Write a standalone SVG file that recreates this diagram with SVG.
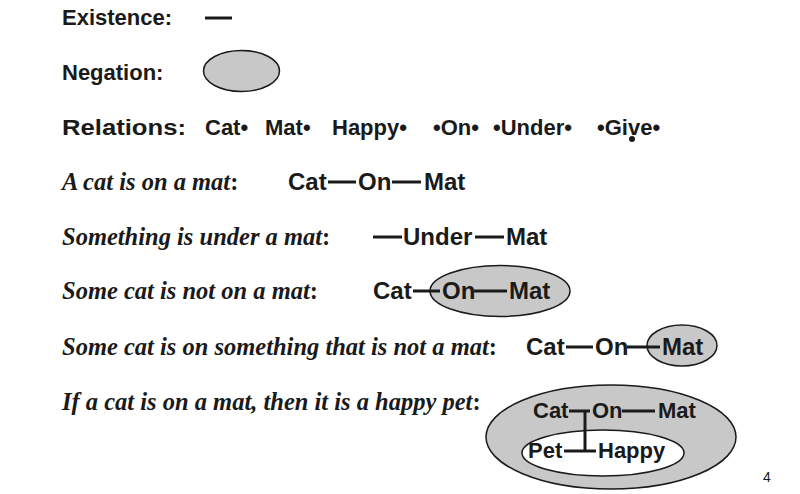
<svg xmlns="http://www.w3.org/2000/svg" width="800" height="494" viewBox="0 0 800 494">
<style>
.s{font-family:"Liberation Sans",Arial,sans-serif;font-weight:bold;font-size:22px;fill:#1a1a1a}
.g{font-family:"Liberation Sans",Arial,sans-serif;font-weight:bold;font-size:24px;fill:#1a1a1a}
.i{font-family:"Liberation Serif","Times New Roman",serif;font-weight:bold;font-style:italic;font-size:24.5px;fill:#1a1a1a}
.u{font-style:normal}
.neg{fill:#c8c8c8;stroke:#1a1a1a;stroke-width:1.5}
.pos{fill:#fff;stroke:#1a1a1a;stroke-width:1.5}
.ln{stroke:#1a1a1a;stroke-width:3;fill:none}
.pg{font-family:"Liberation Sans",Arial,sans-serif;font-size:14px;fill:#1a1a1a}
</style>
<rect width="800" height="494" fill="#fff"/>

<g id="labels">
<text class="s" x="62" y="25">Existence:</text>
<text class="s" x="62" y="80">Negation:</text>
<text class="s" x="62" y="135" style="font-size:22.5px" textLength="124" lengthAdjust="spacingAndGlyphs">Relations:</text>
<text class="i" x="62" y="190">A cat is on a mat<tspan class="u">:</tspan></text>
<text class="i" x="62" y="245">Something is under a mat<tspan class="u">:</tspan></text>
<text class="i" x="62" y="299">Some cat is not on a mat<tspan class="u">:</tspan></text>
<text class="i" x="62" y="355">Some cat is on something that is not a mat<tspan class="u">:</tspan></text>
<text class="i" x="62" y="410">If a cat is on a mat, then it is a happy pet<tspan class="u">:</tspan></text>
</g>

<g id="negation-oval"><ellipse class="neg" cx="241.5" cy="71" rx="38" ry="20.5"/></g>

<g id="relations">
<text class="s" x="205" y="135">Cat•</text>
<text class="s" x="265" y="135">Mat•</text>
<text class="s" x="332" y="135">Happy•</text>
<text class="s" x="433" y="135">•On•</text>
<text class="s" x="493" y="135">•Under•</text>
<text class="s" x="597" y="135">•Give•</text>
<circle cx="632" cy="139" r="3" fill="#1a1a1a"/>
</g>

<g id="ovals">
<ellipse class="neg" cx="500" cy="291" rx="70" ry="25.5"/>
<ellipse class="neg" cx="682" cy="345.5" rx="35" ry="20.5"/>
<ellipse class="neg" cx="611" cy="437" rx="125" ry="52"/>
<ellipse class="pos" cx="603" cy="453" rx="81" ry="23"/>
</g>

<g id="row4">
<text class="g" x="288" y="190">Cat</text>
<text class="g" x="358" y="190">On</text>
<text class="g" x="424" y="190">Mat</text>
</g>
<g id="row5">
<text class="g" x="403" y="245">Under</text>
<text class="g" x="506" y="245">Mat</text>
</g>
<g id="row6">
<text class="g" x="373" y="299">Cat</text>
<text class="g" x="442" y="299">On</text>
<text class="g" x="509" y="299">Mat</text>
</g>
<g id="row7">
<text class="g" x="526" y="355">Cat</text>
<text class="g" x="595" y="355">On</text>
<text class="g" x="662" y="355">Mat</text>
</g>
<g id="row8">
<text class="s" x="533" y="418">Cat</text>
<text class="s" x="592" y="418">On</text>
<text class="s" x="658" y="418">Mat</text>
<text class="s" x="528" y="458">Pet</text>
<text class="s" x="598" y="458">Happy</text>
</g>

<g id="connectors">
<line class="ln" x1="205" y1="18" x2="232" y2="18"/>
<line class="ln" x1="328" y1="182" x2="356" y2="182"/>
<line class="ln" x1="392" y1="182" x2="421" y2="182"/>
<line class="ln" x1="373" y1="237" x2="402" y2="237"/>
<line class="ln" x1="475" y1="237" x2="504" y2="237"/>
<line class="ln" x1="413" y1="291" x2="440" y2="291"/>
<line class="ln" x1="474" y1="291" x2="507" y2="291"/>
<line class="ln" x1="566" y1="347" x2="593" y2="347"/>
<line class="ln" x1="627" y1="347" x2="660" y2="347"/>
<line class="ln" x1="569" y1="411" x2="590" y2="411"/>
<line class="ln" x1="585" y1="411" x2="585" y2="451"/>
<line class="ln" x1="564" y1="451" x2="596" y2="451"/>
<line class="ln" x1="622" y1="411" x2="655" y2="411"/>
</g>

<text class="pg" x="763" y="482">4</text>
</svg>
